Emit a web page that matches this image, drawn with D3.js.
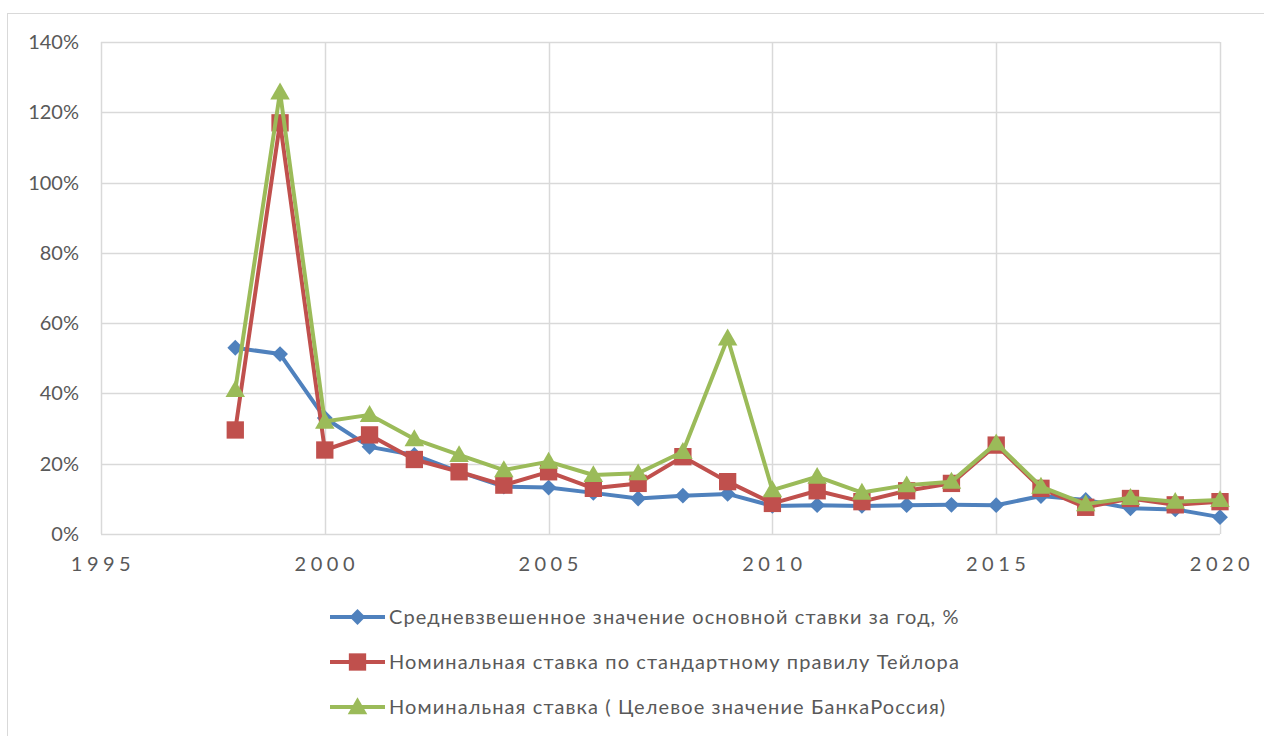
<!DOCTYPE html>
<html>
<head>
<meta charset="utf-8">
<script src="https://cdn.jsdelivr.net/npm/d3@7/dist/d3.min.js"></script>
<style>
  body { margin: 0; background: #fff; }
  svg text { font-family: Lato, "Open Sans", sans-serif; fill: #595959; }
</style>
</head>
<body>
<script>
 ///////////////////////////////////////////////////////
 // data

 var years = d3.range(1998, 2021);
 var avgRate = [53, 51.2, 33, 24.8, 22.5, 17.7, 13.5, 13.2, 11.7, 10.1, 10.9, 11.4,
   8.0, 8.2, 8.0, 8.2, 8.3, 8.2, 10.8, 9.7, 7.3, 7.0, 4.8];
 var taylorRate = [29.6, 117, 23.9, 28.2, 21.2, 17.7, 13.9, 17.7, 13.0, 14.4, 22.0, 14.9,
   8.7, 12.3, 9.2, 12.3, 14.4, 25.3, 13.0, 7.6, 10.1, 8.3, 9.2];
 var targetRate = [41, 125.7, 32, 33.9, 27, 22.5, 18.2, 20.6, 16.8, 17.3, 23.4, 55.7,
   12.5, 16.3, 11.8, 13.9, 14.9, 25.8, 13.5, 8.5, 10.3, 9.2, 9.7];
 var seriesNames = [
   "Средневзвешенное значение основной ставки за год, %",
   "Номинальная ставка по стандартному правилу Тейлора",
   "Номинальная ставка ( Целевое значение БанкаРоссия)"
 ];
 var xTicks = [1995, 2000, 2005, 2010, 2015, 2020];
 var yTicks = [0, 20, 40, 60, 80, 100, 120, 140];

 ///////////////////////////////////////////////////////
 // margins

 var w = 1264;
 var h = 736;
 var svg = d3.select("body").append("svg")
   .attr("width", w)
   .attr("height", h),
   margin = { top: 42, left: 101 },
   width = 1220 - 101,
   height = 534 - 42;

 // outer chart border
 svg.append("rect")
   .attr("x", 7.5).attr("y", 13.5)
   .attr("width", 1300).attr("height", 800)
   .attr("fill", "none")
   .attr("stroke", "#d9d9d9");

 ///////////////////////////////////////////////////////
 // scales

 var x = d3.scaleLinear().domain([1995, 2020]).range([0, width]);
 var y = d3.scaleLinear().domain([0, 140]).range([height, 0]);
 var colors = ["#4f81bd", "#c0504d", "#9bbb59"];
 var symbols = [d3.symbolDiamond2, d3.symbolSquare, d3.symbolTriangle];
 var symSizes = [160, 300, 165];
 var symShift = [0, 0, 1.5]; // center triangle's box on the point

 var chart = svg.append("g")
   .attr("transform", "translate(" + margin.left + "," + margin.top + ")");

 // gridlines
 chart.append("g")
   .selectAll("line.hgrid")
   .data(yTicks).enter().append("line")
   .attr("x1", 0).attr("x2", width)
   .attr("y1", function(d) { return Math.round(y(d)) + 0.5; })
   .attr("y2", function(d) { return Math.round(y(d)) + 0.5; })
   .attr("stroke", "#d9d9d9").attr("stroke-width", 1.5);
 chart.append("g")
   .selectAll("line.vgrid")
   .data(xTicks).enter().append("line")
   .attr("y1", 0).attr("y2", height)
   .attr("x1", function(d) { return Math.round(x(d)) + 0.5; })
   .attr("x2", function(d) { return Math.round(x(d)) + 0.5; })
   .attr("stroke", "#d9d9d9").attr("stroke-width", 1.5);

 // axis labels
 chart.append("g")
   .selectAll("text")
   .data(yTicks).enter().append("text")
   .attr("x", -22)
   .attr("y", function(d) { return y(d); })
   .attr("dy", "0.35em")
   .attr("text-anchor", "end")
   .style("font-size", "20px")
   .text(function(d) { return d + "%"; });
 chart.append("g")
   .selectAll("text")
   .data(xTicks).enter().append("text")
   .attr("x", function(d) { return x(d) + 2; })
   .attr("y", height + 37)
   .attr("text-anchor", "middle")
   .style("font-size", "20px")
   .style("letter-spacing", "4.5px")
   .text(function(d) { return d; });

 ///////////////////////////////////////////////////////
 // plot

 var allSeries = [avgRate, taylorRate, targetRate];
 var line = d3.line()
   .x(function(d) { return x(d.year); })
   .y(function(d) { return y(d.value); });

 allSeries.forEach(function(vals, i) {
   var pts = years.map(function(yr, j) { return { year: yr, value: vals[j] }; });
   var g = chart.append("g");
   g.append("path")
     .datum(pts)
     .attr("d", line)
     .attr("fill", "none")
     .attr("stroke", colors[i])
     .attr("stroke-width", 4)
     .attr("stroke-linejoin", "round");
   g.selectAll("path.marker")
     .data(pts).enter().append("path")
     .attr("class", "marker")
     .attr("d", d3.symbol().type(symbols[i]).size(symSizes[i]))
     .attr("transform", function(d) {
       return "translate(" + x(d.year) + "," + (y(d.value) + symShift[i]) + ")";
     })
     .attr("fill", colors[i]);
 });

 ///////////////////////////////////////////////////////
 // legend

 var legend = svg.append("g")
   .selectAll("g")
   .data(seriesNames).enter().append("g")
   .attr("transform", function(d, i) { return "translate(330," + (617 + i * 45) + ")"; });
 legend.append("line")
   .attr("x1", 0).attr("x2", 55)
   .attr("stroke", function(d, i) { return colors[i]; })
   .attr("stroke-width", 4);
 legend.append("path")
   .attr("d", function(d, i) { return d3.symbol().type(symbols[i]).size(symSizes[i])(); })
   .attr("transform", function(d, i) { return "translate(27.5," + symShift[i] + ")"; })
   .attr("fill", function(d, i) { return colors[i]; });
 legend.append("text")
   .attr("x", 59)
   .attr("dy", "0.35em")
   .style("font-size", "20px")
   .style("letter-spacing", "1.1px")
   .text(function(d) { return d; });
</script>
</body>
</html>
